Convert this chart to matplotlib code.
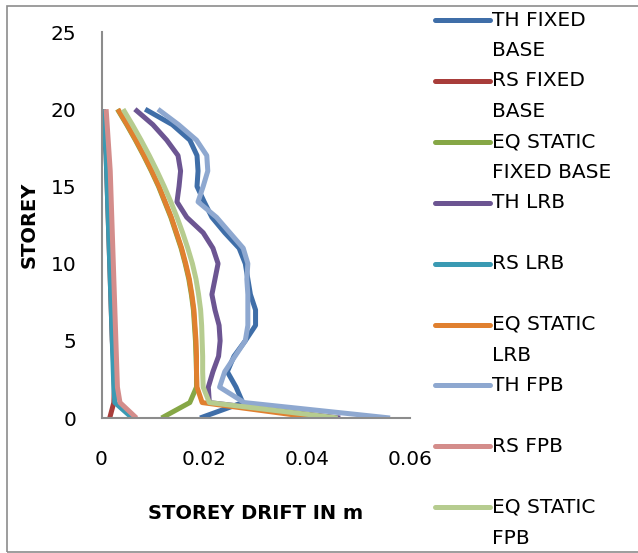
import matplotlib
matplotlib.use("Agg")
import matplotlib.pyplot as plt
from matplotlib.lines import Line2D
from matplotlib.patches import Rectangle

plt.rcParams['font.family'] = ['DejaVu Sans']

# Storey levels (ground = 0 to roof = 20)
storeys = list(range(0, 21))

# Storey drift in m, listed from storey 0 upwards
th_fixed = [0.0192, 0.0275, 0.0262, 0.0245, 0.0258, 0.0280, 0.0300, 0.0300, 0.0290, 0.0285,
            0.0280, 0.0268, 0.0240, 0.0215, 0.0200, 0.0186, 0.0188, 0.0186, 0.0172, 0.0138, 0.0085]
rs_fixed = [0.0016, 0.0024, 0.0025, 0.0024, 0.0023, 0.0021, 0.0020, 0.0019, 0.0018, 0.0017,
            0.0016, 0.0015, 0.0014, 0.0013, 0.0012, 0.0011, 0.0010, 0.0009, 0.0007, 0.0006, 0.0004]
eq_fixed = [0.0117, 0.0172, 0.0185, 0.0185, 0.0184, 0.0183, 0.0181, 0.0179, 0.0175, 0.0170,
            0.0163, 0.0155, 0.0145, 0.0135, 0.0123, 0.0111, 0.0097, 0.0082, 0.0066, 0.0049, 0.0031]
th_lrb = [0.0465, 0.0210, 0.0208, 0.0217, 0.0228, 0.0231, 0.0229, 0.0221, 0.0215, 0.0221,
          0.0227, 0.0217, 0.0198, 0.0166, 0.0147, 0.0151, 0.0154, 0.0149, 0.0127, 0.0100, 0.0065]
rs_lrb = [0.0060, 0.0026, 0.0024, 0.0023, 0.0022, 0.0021, 0.0020, 0.0019, 0.0018, 0.0017,
          0.0016, 0.0015, 0.0014, 0.0013, 0.0012, 0.0011, 0.0010, 0.0009, 0.0007, 0.0006, 0.0004]
eq_lrb = [0.0420, 0.0196, 0.0186, 0.0185, 0.0185, 0.0184, 0.0182, 0.0180, 0.0176, 0.0171,
          0.0164, 0.0156, 0.0146, 0.0136, 0.0124, 0.0112, 0.0098, 0.0083, 0.0067, 0.0050, 0.0032]
th_fpb = [0.0562, 0.0278, 0.0230, 0.0240, 0.0260, 0.0280, 0.0285, 0.0285, 0.0285, 0.0283,
          0.0285, 0.0276, 0.0250, 0.0224, 0.0188, 0.0198, 0.0207, 0.0205, 0.0185, 0.0150, 0.0110]
rs_fpb = [0.0068, 0.0036, 0.0031, 0.0030, 0.0029, 0.0028, 0.0027, 0.0026, 0.0025, 0.0024,
          0.0023, 0.0022, 0.0021, 0.0020, 0.0019, 0.0018, 0.0017, 0.0015, 0.0013, 0.0011, 0.0009]
eq_fpb = [0.0460, 0.0210, 0.0198, 0.0197, 0.0197, 0.0196, 0.0195, 0.0193, 0.0189, 0.0184,
          0.0177, 0.0168, 0.0158, 0.0147, 0.0135, 0.0122, 0.0108, 0.0093, 0.0077, 0.0060, 0.0042]

series = [th_fixed, rs_fixed, eq_fixed, th_lrb, rs_lrb, eq_lrb, th_fpb, rs_fpb, eq_fpb]
labels = ["TH FIXED\nBASE", "RS FIXED\nBASE", "EQ STATIC\nFIXED BASE", "TH LRB", "RS LRB",
          "EQ STATIC\nLRB", "TH FPB", "RS FPB", "EQ STATIC\nFPB"]
colors = ["#3F6EA8", "#A83D3A", "#86A746", "#6C5592", "#3A9AB3",
          "#E0802F", "#8EA8D0", "#D48D8B", "#B6CC8F"]

x_ticks = [0, 0.02, 0.04, 0.06]
x_tick_labels = ["0", "0.02", "0.04", "0.06"]
y_ticks = [0, 5, 10, 15, 20, 25]

W, H = 638, 553
fig = plt.figure(figsize=(W / 100, H / 100), dpi=100)

# outer chart border
fig.add_artist(Rectangle((7 / W, 1 - 552 / H), (W + 5 - 7) / W, (552 - 6) / H,
                         transform=fig.transFigure, fill=False,
                         edgecolor="#8C8C8C", linewidth=1.2))

ax = fig.add_axes([101.5 / W, 1 - 418 / H, (409.6 - 101.5) / W, (418 - 32) / H])

for vals, col in zip(series, colors):
    ax.plot(vals, storeys, color=col, linewidth=3.6, solid_joinstyle="round",
            solid_capstyle="butt")

ax.set_xlim(0, 0.06)
ax.set_ylim(0, 25)
ax.set_xticks(x_ticks)
ax.set_xticklabels(x_tick_labels)
ax.set_yticks(y_ticks)
ax.tick_params(axis="both", length=0, labelsize=14.5, colors="black")
ax.tick_params(axis="x", pad=23)
ax.tick_params(axis="y", pad=18)
for side in ("top", "right"):
    ax.spines[side].set_visible(False)
for side in ("left", "bottom"):
    ax.spines[side].set_color("#8C8C8C")
    ax.spines[side].set_linewidth(1.5)

ax.set_ylabel("STOREY", fontsize=14, fontweight="bold")
ax.yaxis.set_label_coords(-62.5 / (409.6 - 101.5), 0.5)
ax.set_xlabel("STOREY DRIFT IN m", fontsize=14, fontweight="bold")
ax.xaxis.set_label_coords(0.5, -(504 - 418) / (418 - 32))

# legend drawn entry by entry on the right
slot_top = 20.0
slot_step = 60.9
for i, (lab, col) in enumerate(zip(labels, colors)):
    yc = slot_top + i * slot_step
    fy = 1 - yc / H
    fig.add_artist(Line2D([435 / W, 490 / W], [fy, fy], transform=fig.transFigure,
                          color=col, linewidth=3.6, solid_capstyle="round"))
    lines = lab.split("\n")
    for j, part in enumerate(lines):
        fig.text(492 / W, 1 - (yc + j * 31) / H, part, fontsize=14.5,
                 ha="left", va="center", color="black")

fig.savefig("out.png", dpi=100)
